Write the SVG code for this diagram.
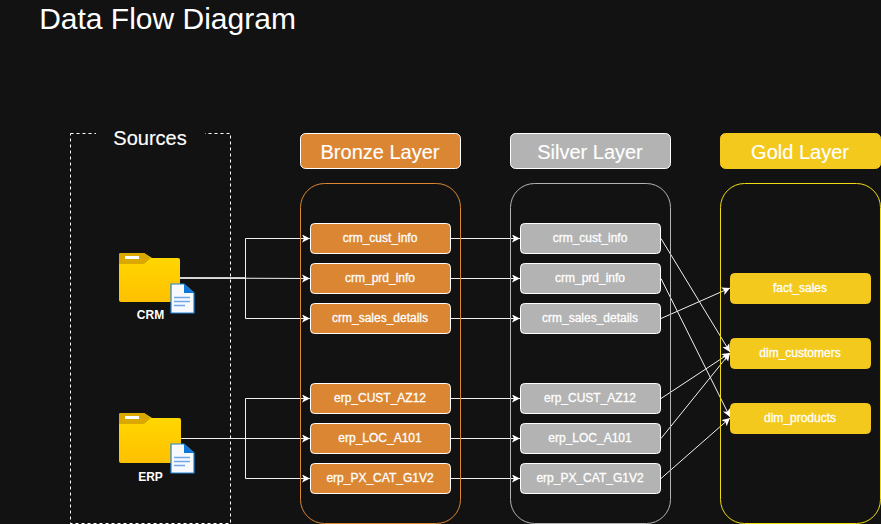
<svg xmlns="http://www.w3.org/2000/svg" width="881" height="524" viewBox="0 0 881 524">
<style>
text{font-family:"Liberation Sans",Arial,sans-serif;fill:#fff;text-anchor:middle}
.hd{font-size:20px;stroke:#fff;stroke-width:.15px}
.nl{font-size:12px;stroke:#fff;stroke-width:.3px}
.n{stroke:#fff;stroke-width:1}
.b{fill:#db8633}
.s{fill:#b3b3b3}
.g{fill:#f4c91d;stroke:#f4c91d}
.c{fill:none;stroke-width:1}
.e{fill:none;stroke:#f0f0f0;stroke-width:1;marker-end:url(#a)}
.src{font-size:12px;font-weight:700}
</style>
<defs>
<marker id="a" markerUnits="userSpaceOnUse" markerWidth="10" markerHeight="10" refX="8" refY="4" orient="auto"><path d="M0 0L8 4L0 8L2 4Z" fill="#fff"/></marker>
<linearGradient id="fg" x1="0" y1="0" x2="0" y2="1"><stop offset="0" stop-color="#ffd900"/><stop offset="1" stop-color="#ffc000"/></linearGradient>
<g id="doc">
<path d="M1 1H14L24 10V30H1Z" fill="#f8f8ff" stroke="#1f86d8" stroke-width="1.2"/>
<path d="M14 1L24 10H14Z" fill="#0f78d4"/>
<path d="M4 14.500H20M4 18.500H20M4 22.500H15" stroke="#6ea6e8" stroke-width="1.600"/>
</g>
</defs>
<rect width="881" height="524" fill="#121212"/>
<text id="title" x="167.500" y="29" style="font-size:30px">Data Flow Diagram</text>

<g id="sources">
<rect x="70.500" y="133.500" width="160" height="390" fill="none" stroke="#fff" stroke-dasharray="3 3"/>
<rect x="96" y="125" width="109" height="20" fill="#121212"/>
<text class="hd" x="150" y="145">Sources</text>
</g>

<g id="connectors">
<path class="e" d="M180 278H245.500V238.500H310"/>
<path class="e" d="M180 278L310 278.500"/>
<path class="e" d="M180 278H245.500V318.500H310"/>
<path class="e" d="M181.500 438.500H245.500V398.500H310"/>
<path class="e" d="M181.500 438.500H310"/>
<path class="e" d="M181.500 438.500H245.500V478.500H310"/>
<path class="e" d="M450.500 238.500H520"/>
<path class="e" d="M450.500 278.500H520"/>
<path class="e" d="M450.500 318.500H520"/>
<path class="e" d="M450.500 398.500H520"/>
<path class="e" d="M450.500 438.500H520"/>
<path class="e" d="M450.500 478.500H520"/>
<path class="e" d="M661 238.500L730 352"/>
<path class="e" d="M661 278.500L730 417"/>
<path class="e" d="M661 318.500L730 288"/>
<path class="e" d="M661 398.500L730 353"/>
<path class="e" d="M661 438.500L730 353"/>
<path class="e" d="M661 478.500L730 418"/>
</g>

<g id="crm-source">
<path d="M119 255a2 2 0 0 1 2-2h23l8 5h26a2 2 0 0 1 2 2v40a2 2 0 0 1-2 2H121a2 2 0 0 1-2-2Z" fill="url(#fg)"/>
<path d="M119 255a2 2 0 0 1 2-2h23l7 5l-7 6H119Z" fill="#dba800"/>
<rect x="125" y="256" width="14" height="3" fill="#fff"/>
<use href="#doc" x="170" y="283"/><text class="src" x="150.500" y="319">CRM</text></g>
<g id="erp-source">
<path d="M119 415a2 2 0 0 1 2-2h23l8 5h27a2 2 0 0 1 2 2v41a2 2 0 0 1-2 2H121a2 2 0 0 1-2-2Z" fill="url(#fg)"/>
<path d="M119 415a2 2 0 0 1 2-2h23l7 5l-7 6H119Z" fill="#dba800"/>
<rect x="125" y="416" width="14" height="3" fill="#fff"/>
<use href="#doc" x="170" y="443"/><text class="src" x="150.500" y="481">ERP</text></g>

<g id="bronze-container"><rect x="300.500" y="183.500" width="160" height="340" rx="24" class="c" stroke="#db8633"/></g>
<g id="silver-container"><rect x="510.500" y="183.500" width="160" height="340" rx="24" class="c" stroke="#b3b3b3"/></g>
<g id="gold-container"><rect x="720.500" y="183.500" width="160" height="340" rx="24" class="c" stroke="#f0dc10"/></g>

<g id="bronze-header"><rect x="300.500" y="133.500" width="160" height="35" rx="5" class="n b"/><text class="hd" x="380" y="158.500">Bronze Layer</text></g>
<g id="silver-header"><rect x="510.500" y="133.500" width="160" height="35" rx="5" class="n s"/><text class="hd" x="590" y="158.500">Silver Layer</text></g>
<g id="gold-header"><rect x="720.500" y="133.500" width="160" height="35" rx="5" class="g"/><text class="hd" x="800" y="158.500">Gold Layer</text></g>

<g id="b1"><rect x="310.500" y="223.500" width="140" height="30" rx="4" class="n b"/><text class="nl" x="380" y="242">crm_cust_info</text></g>
<g id="b2"><rect x="310.500" y="263.500" width="140" height="30" rx="4" class="n b"/><text class="nl" x="380" y="282">crm_prd_info</text></g>
<g id="b3"><rect x="310.500" y="303.500" width="140" height="30" rx="4" class="n b"/><text class="nl" x="380" y="322">crm_sales_details</text></g>
<g id="b4"><rect x="310.500" y="383.500" width="140" height="30" rx="4" class="n b"/><text class="nl" x="380" y="402">erp_CUST_AZ12</text></g>
<g id="b5"><rect x="310.500" y="423.500" width="140" height="30" rx="4" class="n b"/><text class="nl" x="380" y="442">erp_LOC_A101</text></g>
<g id="b6"><rect x="310.500" y="463.500" width="140" height="30" rx="4" class="n b"/><text class="nl" x="380" y="482">erp_PX_CAT_G1V2</text></g>

<g id="s1"><rect x="520.500" y="223.500" width="140" height="30" rx="4" class="n s"/><text class="nl" x="590" y="242">crm_cust_info</text></g>
<g id="s2"><rect x="520.500" y="263.500" width="140" height="30" rx="4" class="n s"/><text class="nl" x="590" y="282">crm_prd_info</text></g>
<g id="s3"><rect x="520.500" y="303.500" width="140" height="30" rx="4" class="n s"/><text class="nl" x="590" y="322">crm_sales_details</text></g>
<g id="s4"><rect x="520.500" y="383.500" width="140" height="30" rx="4" class="n s"/><text class="nl" x="590" y="402">erp_CUST_AZ12</text></g>
<g id="s5"><rect x="520.500" y="423.500" width="140" height="30" rx="4" class="n s"/><text class="nl" x="590" y="442">erp_LOC_A101</text></g>
<g id="s6"><rect x="520.500" y="463.500" width="140" height="30" rx="4" class="n s"/><text class="nl" x="590" y="482">erp_PX_CAT_G1V2</text></g>

<g id="g1"><rect x="730.500" y="273.500" width="140" height="30" rx="4" class="g"/><text class="nl" x="800" y="292">fact_sales</text></g>
<g id="g2"><rect x="730.500" y="338.500" width="140" height="30" rx="4" class="g"/><text class="nl" x="800" y="357">dim_customers</text></g>
<g id="g3"><rect x="730.500" y="403.500" width="140" height="30" rx="4" class="g"/><text class="nl" x="800" y="422">dim_products</text></g>
</svg>
